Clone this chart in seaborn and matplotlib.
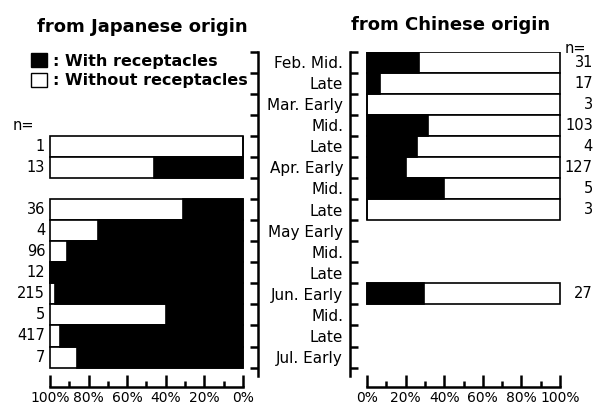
import numpy as np
import pandas as pd
import seaborn as sns
import matplotlib.pyplot as plt
from matplotlib.patches import Patch

# Half-month periods (unique keys) and the labels shown between the panels
periods = ["Feb. Mid.", "Feb. Late", "Mar. Early", "Mar. Mid.", "Mar. Late",
           "Apr. Early", "Apr. Mid.", "Apr. Late", "May Early", "May Mid.",
           "May Late", "Jun. Early", "Jun. Mid.", "Jun. Late", "Jul. Early"]
row_labels = ["Feb. Mid.", "Late", "Mar. Early", "Mid.", "Late",
              "Apr. Early", "Mid.", "Late", "May Early", "Mid.",
              "Late", "Jun. Early", "Mid.", "Late", "Jul. Early"]

# from Japanese origin
jp_periods = ["Mar. Late", "Apr. Early", "Apr. Late", "May Early", "May Mid.",
              "May Late", "Jun. Early", "Jun. Mid.", "Jun. Late", "Jul. Early"]
jp_n = [1, 13, 36, 4, 96, 12, 215, 5, 417, 7]
jp_with = [0, 46, 31, 75, 91, 100, 97.5, 40, 95, 86]

# from Chinese origin
cn_periods = ["Feb. Mid.", "Feb. Late", "Mar. Early", "Mar. Mid.", "Mar. Late",
              "Apr. Early", "Apr. Mid.", "Apr. Late", "Jun. Early"]
cn_n = [31, 17, 3, 103, 4, 127, 5, 3, 27]
cn_with = [27, 7, 0, 31.5, 26, 20, 40, 0, 29.5]

x_ticks = [0, 20, 40, 60, 80, 100]
x_tick_labels = ["0%", "20%", "40%", "60%", "80%", "100%"]

plt.rcParams["font.family"] = ["DejaVu Sans"]

fig = plt.figure(figsize=(5.94, 4.12), dpi=100)
ax_jp = fig.add_axes([0.0354, 0.0607, 0.399, 0.8143])
ax_cn = fig.add_axes([0.5892, 0.0607, 0.4024, 0.8143])


def draw_panel(ax, cats, pct):
    df = pd.DataFrame({"period": cats, "total": 100.0, "with": pct})
    for col, colour in [("total", "white"), ("with", "black")]:
        sns.barplot(data=df, x=col, y="period", order=periods, orient="h",
                    color=colour, edgecolor="black", linewidth=1.2, width=1.0,
                    saturation=1, errorbar=None, ax=ax)
    ax.set_ylim(15.42, -0.5)
    ax.set_xlabel("")
    ax.set_ylabel("")
    ax.set_yticks(np.arange(len(periods)))
    ax.set_yticks(np.arange(-0.5, len(periods), 1.0), minor=True)
    ax.set_xticks(x_ticks)
    ax.set_xticklabels(x_tick_labels)
    ax.set_xticks(np.arange(10, 100, 20), minor=True)
    ax.tick_params(axis="x", which="major", direction="in", length=9, width=1.8,
                   labelsize=10, pad=3)
    ax.tick_params(axis="x", which="minor", direction="in", length=4, width=1.8)
    ax.tick_params(axis="y", which="major", length=0)
    ax.tick_params(axis="y", which="minor", direction="in", length=6, width=1.8)
    ax.spines["top"].set_visible(False)
    ax.spines["bottom"].set_bounds(0, 100)
    ax.spines["bottom"].set_linewidth(1.8)
    ax.patch.set_visible(False)


# Left panel: axis reversed, 100% on the left
draw_panel(ax_jp, jp_periods, jp_with)
ax_jp.set_xlim(115, -7.8)
ax_jp.spines["left"].set_visible(False)
ax_jp.spines["right"].set_bounds(-0.5, 14.9)
ax_jp.spines["right"].set_linewidth(1.8)
ax_jp.yaxis.tick_right()
ax_jp.set_yticklabels([])
ax_jp.tick_params(axis="y", which="minor", right=True, left=False)
for cat, n in zip(jp_periods, jp_n):
    ax_jp.text(102.5, periods.index(cat), str(n), ha="right", va="center",
               fontsize=10.5)
ax_jp.text(119.5, 3, "n=", ha="left", va="center", fontsize=10.5, clip_on=False)

# Right panel
draw_panel(ax_cn, cn_periods, cn_with)
ax_cn.set_xlim(-8.8, 115)
ax_cn.spines["right"].set_visible(False)
ax_cn.spines["left"].set_bounds(-0.5, 14.9)
ax_cn.spines["left"].set_linewidth(1.8)
ax_cn.set_yticklabels(row_labels)
ax_cn.tick_params(axis="y", which="major", labelsize=11, pad=5)
for cat, n in zip(cn_periods, cn_n):
    ax_cn.text(117, periods.index(cat), str(n), ha="right", va="center",
               fontsize=10.5, clip_on=False)
ax_cn.text(102.6, -0.62, "n=", ha="left", va="center", fontsize=10.5, clip_on=False)

# Legend
ax_jp.legend(
    handles=[Patch(facecolor="black", edgecolor="black"),
             Patch(facecolor="white", edgecolor="black")],
    labels=[": With receptacles", ": Without receptacles"],
    loc="upper left",
    bbox_to_anchor=(31 / 594, 1 - 53 / 412),
    bbox_transform=fig.transFigure,
    frameon=False,
    prop={"size": 11.5, "weight": "bold"},
    handlelength=1.0,
    handleheight=1.0,
    handletextpad=0.4,
    labelspacing=0.25,
    borderpad=0,
    borderaxespad=0,
)

# Titles
fig.text(142 / 594, 1 - 27 / 412, "from Japanese origin", ha="center", va="center",
         fontsize=13, fontweight="bold")
fig.text(451 / 594, 1 - 25 / 412, "from Chinese origin", ha="center", va="center",
         fontsize=13, fontweight="bold")

fig.savefig("out.png", dpi=100)
